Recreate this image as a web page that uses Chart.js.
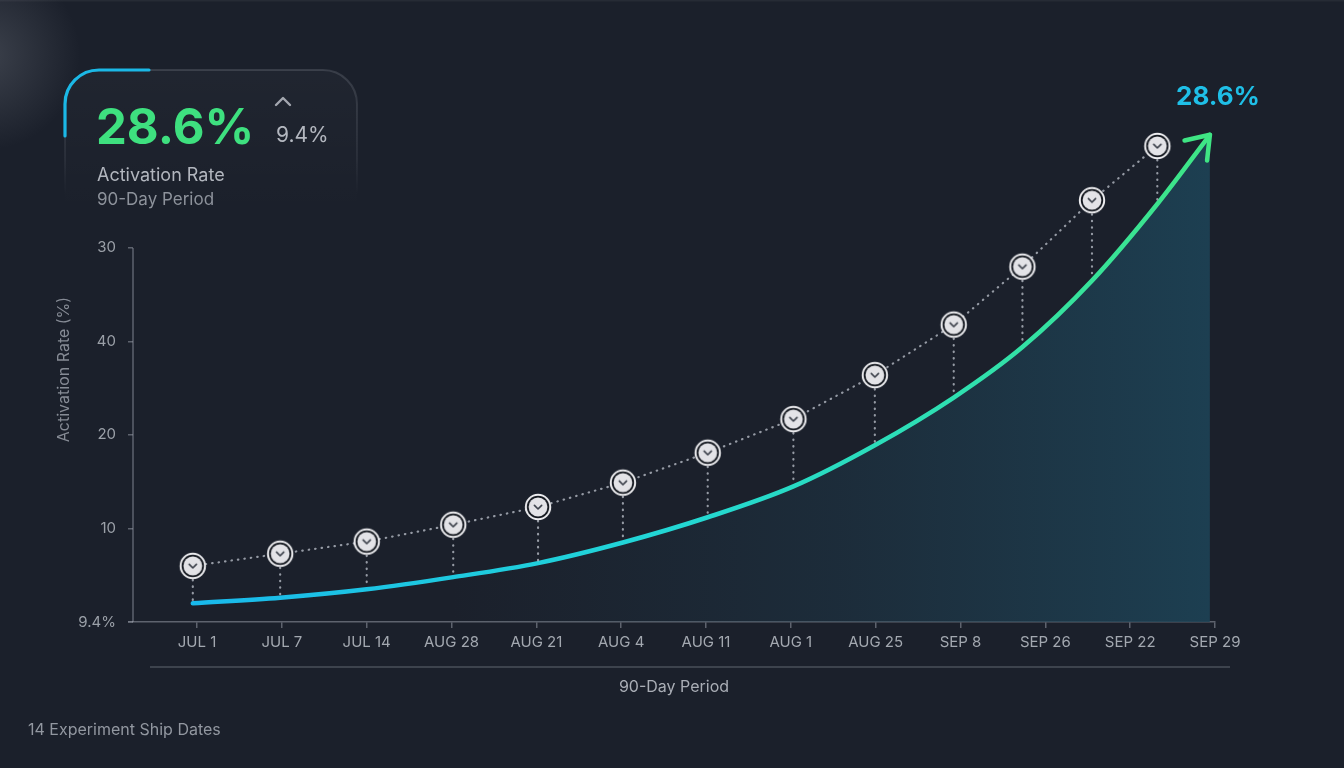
<!DOCTYPE html>
<html><head><meta charset="utf-8">
<script src="https://cdn.jsdelivr.net/npm/chart.js@4.4.1/dist/chart.umd.min.js"></script>
<style>html,body{margin:0;padding:0;background:#1b202b;overflow:hidden}#wrap{width:1344px;height:768px;position:relative}canvas{display:block}</style>
</head><body><div id="wrap"><canvas id="c" width="1344" height="768"></canvas></div>
<script>
// ---- data ----
const categories = ["JUL 1","JUL 7","JUL 14","AUG 28","AUG 21","AUG 4","AUG 11","AUG 1","AUG 25","SEP 8","SEP 26","SEP 22","SEP 29"];
const yTickLabels = ["9.4%","10","20","40","30"];
const shipX = [-0.05,0.98,2.0,3.02,4.02,5.02,6.02,7.03,7.99,8.92,9.73,10.55,11.32];
const shipY = [0.6,0.73,0.86,1.04,1.23,1.49,1.81,2.17,2.64,3.18,3.80,4.51,5.09];
const trendX = [-0.05,0.98,2.0,3.02,4.02,5.02,6.02,7.03,7.99,8.92,9.73,10.55,11.32,11.94];
const trendY = [0.2,0.26,0.35,0.48,0.63,0.85,1.12,1.45,1.89,2.40,2.94,3.65,4.47,5.21];
const headlineValue = "28.6%";
const baselineValue = "9.4%";
const metricName = "Activation Rate";
const periodName = "90-Day Period";
const footnote = "14 Experiment Ship Dates";

const FONT = "Inter, 'Noto Sans', sans-serif";

function makeMarker(){
  const s = 30, c = document.createElement('canvas');
  c.width = s; c.height = s;
  const g = c.getContext('2d'), m = s/2;
  g.beginPath(); g.arc(m,m,13.2,0,Math.PI*2); g.fillStyle='#ededf0'; g.fill();
  g.beginPath(); g.arc(m,m,11.2,0,Math.PI*2); g.fillStyle='#151920'; g.fill();
  g.beginPath(); g.arc(m,m,9.4,0,Math.PI*2); g.fillStyle='#e3e3e7'; g.fill();
  g.beginPath(); g.moveTo(m-3.6,m-1.6); g.lineTo(m,m+2); g.lineTo(m+3.6,m-1.6);
  g.strokeStyle='#3b404a'; g.lineWidth=1.6; g.lineCap='round'; g.lineJoin='round'; g.stroke();
  return c;
}
const marker = makeMarker();

const shipData = shipX.map((x,i)=>({x, y: shipY[i]}));
const trendData = trendX.map((x,i)=>({x, y: trendY[i]}));

function lineGradient(ctx){
  const chart = ctx.chart, area = chart.chartArea;
  if(!area) return '#22c8e0';
  const xs = chart.scales.x;
  const g = chart.ctx.createLinearGradient(xs.getPixelForValue(0),0,xs.getPixelForValue(12),0);
  g.addColorStop(0,'#19b9ec');
  g.addColorStop(0.45,'#22d6d6');
  g.addColorStop(0.75,'#2fe0b0');
  g.addColorStop(1,'#3fe584');
  return g;
}
function fillGradient(ctx){
  const chart = ctx.chart, area = chart.chartArea;
  if(!area) return 'rgba(28,64,82,0.5)';
  const xs = chart.scales.x;
  const g = chart.ctx.createLinearGradient(xs.getPixelForValue(3),0,xs.getPixelForValue(12),0);
  g.addColorStop(0,'rgba(30,60,78,0)');
  g.addColorStop(0.5,'rgba(30,62,80,0.4)');
  g.addColorStop(1,'rgba(29,66,85,0.92)');
  return g;
}
const DOT = [0.5,6];

const decor = {
  id:'decor',
  beforeDraw(chart){
    const c = chart.ctx, W = chart.width, H = chart.height;
    c.save();
    c.fillStyle = '#1b202b'; c.fillRect(0,0,W,H);
    const rg = c.createRadialGradient(-15,55,0,-15,55,95);
    rg.addColorStop(0,'rgba(130,135,145,0.32)');
    rg.addColorStop(1,'rgba(130,135,145,0)');
    c.fillStyle = rg; c.fillRect(0,0,200,200);
    c.fillStyle='rgba(255,255,255,0.05)'; c.fillRect(0,0,W,1.5);
    // card
    const x0=65,y0=70,x1=357,r=34,yb=215;
    const fg = c.createLinearGradient(0,y0,0,yb);
    fg.addColorStop(0,'rgba(255,255,255,0.025)'); fg.addColorStop(1,'rgba(255,255,255,0)');
    c.beginPath(); c.moveTo(x0,yb); c.lineTo(x0,y0+r); c.arcTo(x0,y0,x0+r,y0,r); c.lineTo(x1-r,y0); c.arcTo(x1,y0,x1,y0+r,r); c.lineTo(x1,yb); c.closePath();
    c.fillStyle=fg; c.fill();
    const sg = c.createLinearGradient(0,y0,0,195);
    sg.addColorStop(0,'rgba(200,205,215,0.16)'); sg.addColorStop(0.7,'rgba(200,205,215,0.08)'); sg.addColorStop(1,'rgba(200,205,215,0)');
    c.beginPath(); c.moveTo(x0,yb); c.lineTo(x0,y0+r); c.arcTo(x0,y0,x0+r,y0,r); c.lineTo(x1-r,y0); c.arcTo(x1,y0,x1,y0+r,r); c.lineTo(x1,yb);
    c.strokeStyle=sg; c.lineWidth=2; c.stroke();
    c.beginPath(); c.moveTo(x0,136); c.lineTo(x0,y0+r); c.arcTo(x0,y0,x0+r,y0,r); c.lineTo(149,y0);
    c.strokeStyle='#1bb8e6'; c.lineWidth=3.2; c.lineCap='round'; c.stroke();
    c.restore();
  },
  beforeDatasetsDraw(chart){
    const c = chart.ctx, xs = chart.scales.x, ys = chart.scales.y;
    c.save();
    c.strokeStyle='rgba(150,155,165,0.55)'; c.lineWidth=1.5;
    c.beginPath(); c.moveTo(chart.chartArea.left, ys.getPixelForValue(4)); c.lineTo(chart.chartArea.left, ys.getPixelForValue(0)); c.stroke();
    c.beginPath(); c.moveTo(128, ys.getPixelForValue(0)); c.lineTo(chart.chartArea.left, ys.getPixelForValue(0)); c.stroke();
    c.strokeStyle='rgba(150,155,165,0.38)'; c.lineWidth=1.5;
    c.beginPath(); c.moveTo(150,667); c.lineTo(1230,667); c.stroke();
    c.restore();
  },
  afterDatasetDraw(chart,args){
    if(args.index!==1) return;
    const c = chart.ctx, xs = chart.scales.x, ys = chart.scales.y;
    c.save();
    c.strokeStyle='rgba(180,185,195,0.8)'; c.lineWidth=2.2; c.setLineDash(DOT); c.lineCap='round';
    shipX.forEach((x,i)=>{
      const px = xs.getPixelForValue(x);
      c.beginPath(); c.moveTo(px, ys.getPixelForValue(shipY[i])+14); c.lineTo(px, ys.getPixelForValue(trendY[i])-2); c.stroke();
    });
    c.setLineDash([]);
    const n = trendX.length;
    const tx = xs.getPixelForValue(trendX[n-1]), ty = ys.getPixelForValue(trendY[n-1]);
    const px = xs.getPixelForValue(trendX[n-2]), py = ys.getPixelForValue(trendY[n-2]);
    const ang = Math.atan2(ty-py, tx-px) + 0.08;
    const L = 26, a = 0.62;
    c.strokeStyle='#3fe584'; c.lineWidth=4.5; c.lineCap='round'; c.lineJoin='round';
    c.beginPath();
    c.moveTo(tx - L*Math.cos(ang-a), ty - L*Math.sin(ang-a));
    c.lineTo(tx, ty);
    c.lineTo(tx - L*Math.cos(ang+a), ty - L*Math.sin(ang+a));
    c.stroke();
    c.restore();
  },
  afterDraw(chart){
    const c = chart.ctx;
    c.save();
    c.textBaseline='alphabetic'; c.textAlign='left';
    c.fillStyle='#3ee07f'; c.font='700 49px '+FONT; c.fillText(headlineValue,96,144);
    c.strokeStyle='#a3a7af'; c.lineWidth=2.4; c.lineCap='round'; c.lineJoin='round';
    c.beginPath(); c.moveTo(276,105); c.lineTo(283,98); c.lineTo(290,105); c.stroke();
    c.fillStyle='#b3b7bf'; c.font='400 21px '+FONT; c.fillText(baselineValue,276,142);
    c.fillStyle='#b2b6be'; c.font='400 18px '+FONT; c.fillText(metricName,97,181);
    c.fillStyle='#8d929b'; c.font='400 17px '+FONT; c.fillText(periodName,97,205);
    c.fillStyle='#1fbfe7'; c.font='700 26px '+FONT; c.fillText(headlineValue,1176,105);
    c.fillStyle='#9297a0'; c.font='400 16px '+FONT; c.fillText(footnote,28,735);
    c.restore();
  }
};

Chart.defaults.font.family = FONT;
new Chart(document.getElementById('c'), {
  type:'line',
  data:{
    datasets:[
      {
        label:'Ship dates', data: shipData, order:0,
        borderColor:'rgba(180,185,195,0.8)', borderWidth:2.2, borderDash:DOT, borderCapStyle:'round',
        tension:0, fill:false,
        pointStyle: marker, pointRadius:13, pointHoverRadius:13, clip:false
      },
      {
        label:'Activation rate', data: trendData, order:1,
        borderColor: lineGradient, borderWidth:4.5, borderCapStyle:'round',
        backgroundColor: fillGradient, fill:'origin',
        cubicInterpolationMode:'monotone', pointRadius:0, clip:false
      }
    ]
  },
  options:{
    responsive:false, animation:false,
    layout:{padding:{left:0,right:129,top:117,bottom:0}},
    plugins:{legend:{display:false},tooltip:{enabled:false}},
    scales:{
      x:{
        type:'linear', min:-0.755, max:12,
        afterBuildTicks:s=>{ s.ticks = categories.map((_,i)=>({value:i})); },
        afterFit:s=>{ s.height = 146; },
        ticks:{callback:v=>categories[v] ?? '', color:'#a3a8b0', font:{size:15}, padding:5, maxRotation:0, autoSkip:false},
        grid:{drawOnChartArea:false, drawTicks:true, tickLength:6, color:'rgba(150,155,165,0.55)', lineWidth:1.5},
        border:{display:true, color:'rgba(150,155,165,0.55)', width:1.5},
        title:{display:true, text:periodName, color:'#a9adb5', font:{size:16}, padding:{top:0,bottom:71}}
      },
      y:{
        type:'linear', min:0, max:5.4,
        afterBuildTicks:s=>{ s.ticks = yTickLabels.map((_,i)=>({value:i})); },
        afterFit:s=>{ s.width = 133; },
        ticks:{callback:v=>yTickLabels[v] ?? '', color:'#9ba0a8', font:{size:15}, padding:12},
        grid:{drawOnChartArea:false, drawTicks:true, tickLength:5, color:'rgba(150,155,165,0.55)', lineWidth:1.5},
        border:{display:false},
        title:{display:true, text:'Activation Rate (%)', color:'#868b95', font:{size:16}, padding:{top:55,bottom:0}}
      }
    }
  },
  plugins:[decor]
});
</script>
</body></html>
